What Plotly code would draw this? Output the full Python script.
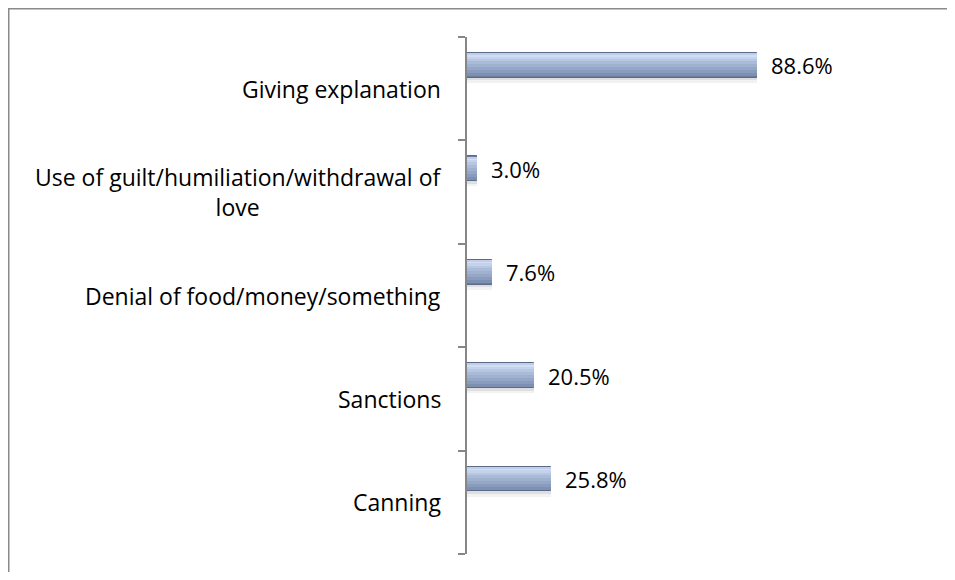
import plotly.graph_objects as go

categories = ["Giving explanation",
              "Use of guilt/humiliation/withdrawal of<br>love",
              "Denial of food/money/something",
              "Sanctions",
              "Canning"]
values = [88.6, 3.0, 7.6, 20.5, 25.8]
value_labels = ["88.6%", "3.0%", "7.6%", "20.5%", "25.8%"]

n = len(categories)
ypos = [n - 1 - i for i in range(n)]  # top category at top

FONT = "Open Sans"
# page body has an 8px margin; figure coordinates = reference pixels - 8
OFF = 8
W, H = 955 - 2 * OFF, 580 - 2 * OFF
L = 467 - OFF
T = 37 - OFF
PW = 327                      # 0..100 % spans 327 px
PH = 554 - 37
R = W - L - PW
B = H - T - PH

BAR_W = 0.24
CENTER_SHIFT = 0.225

fig = go.Figure()

def layer(frac_lo, frac_hi, color, line=None, dy=0.0):
    off = CENTER_SHIFT - BAR_W / 2 + frac_lo * BAR_W + dy
    w = (frac_hi - frac_lo) * BAR_W
    fig.add_trace(go.Bar(
        x=values, y=ypos, orientation="h",
        width=[w] * n, offset=off,
        marker=dict(color=color, line=dict(width=1 if line else 0, color=line or color)),
        hoverinfo="skip", showlegend=False))

# soft shadow below the bar
layer(0.0, 1.0, "rgba(0,0,0,0.05)", dy=-0.05)
layer(0.0, 1.0, "rgba(0,0,0,0.08)", dy=-0.025)
# vertical gradient of the bar, bottom -> top (each layer overlaps up to the top)
layer(0.0, 1.0, "#6a7c9e", line="#5b6a88")
grad = [(0.06, "#7d90b2"), (0.18, "#899cbd"), (0.30, "#94a7c7"), (0.42, "#9eb1cf"),
        (0.54, "#a9bbd9"), (0.66, "#b6c7e2"), (0.76, "#c4d3eb"), (0.86, "#d2def2")]
for lo, col in grad:
    layer(lo, 0.97, col)
layer(0.93, 0.97, "#c0cfe7")

annotations = []
for cat, y in zip(categories, ypos):
    annotations.append(dict(
        x=0, y=y, xref="x", yref="y", text=cat, showarrow=False,
        xanchor="right", yanchor="middle", align="center", xshift=-24,
        font=dict(family=FONT, size=23, color="#000000")))
for v, lab, y in zip(values, value_labels, ypos):
    annotations.append(dict(
        x=v, y=y + CENTER_SHIFT, xref="x", yref="y", text=lab, showarrow=False,
        xanchor="left", yanchor="middle", xshift=12,
        font=dict(family=FONT, size=22, color="#000000")))

def px_x(p):
    return (p - L) / PW
def px_y(p):
    return (H - B - p) / PH

fig.update_layout(
    width=W, height=H,
    margin=dict(l=L, r=R, t=T, b=B),
    paper_bgcolor="white", plot_bgcolor="white",
    barmode="overlay",
    bargap=0,
    xaxis=dict(range=[0, 100], visible=False, fixedrange=True),
    yaxis=dict(range=[-0.5, n - 0.5], showgrid=False, zeroline=False,
               showticklabels=False, showline=True, linecolor="#868686", linewidth=2,
               ticks="outside", ticklen=7, tickwidth=2, tickcolor="#868686",
               tickvals=[i - 0.5 for i in range(n + 1)]),
    annotations=annotations,
    shapes=[
        dict(type="line", xref="paper", yref="paper",
             x0=px_x(1), x1=px_x(W + 5), y0=px_y(0.5), y1=px_y(0.5),
             line=dict(color="#8a8a8a", width=2), layer="below"),
        dict(type="line", xref="paper", yref="paper",
             x0=px_x(0.5), x1=px_x(0.5), y0=px_y(0), y1=px_y(H + 5),
             line=dict(color="#8a8a8a", width=2), layer="below"),
    ],
    showlegend=False,
)

fig.write_html("out.html")
